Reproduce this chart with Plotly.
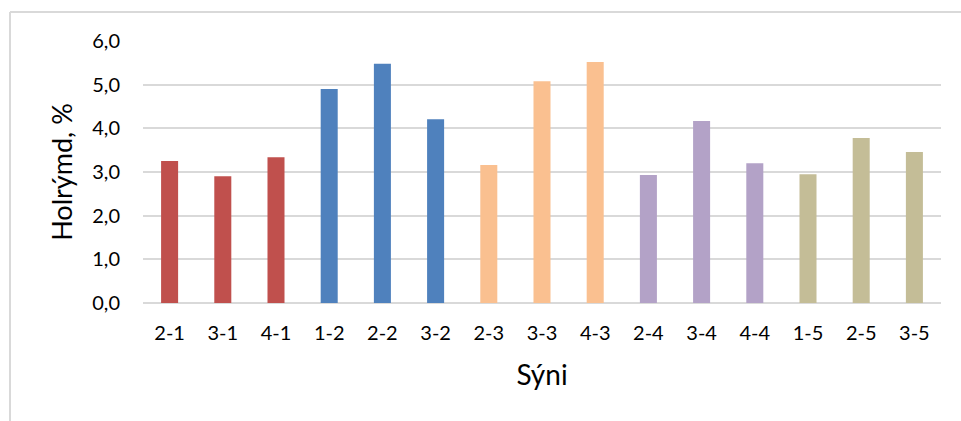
import plotly.graph_objects as go

# Sample labels and measured void content (%)
samples = ["2-1", "3-1", "4-1", "1-2", "2-2", "3-2", "2-3", "3-3",
           "4-3", "2-4", "3-4", "4-4", "1-5", "2-5", "3-5"]
void_pct = [3.25, 2.90, 3.34, 4.90, 5.48, 4.21, 3.16, 5.08,
            5.52, 2.93, 4.17, 3.20, 2.95, 3.78, 3.46]
group_colors = ["#C0504D"] * 3 + ["#4F81BD"] * 3 + ["#FAC090"] * 3 + \
               ["#B3A2C7"] * 3 + ["#C4BD97"] * 3

y_ticks = [0, 1, 2, 3, 4, 5, 6]

W, H = 961, 421
L, R, T, B = 143, 20, 41, 118
pw, ph = W - L - R, H - T - B

fig = go.Figure(go.Bar(
    x=samples, y=void_pct,
    marker=dict(color=group_colors, line=dict(width=0)),
))

font = "Lato, 'Open Sans', sans-serif"
grid = "#D9D9D9"

fig.update_layout(
    width=W, height=H,
    margin=dict(l=L, r=R, t=T, b=B, pad=0),
    paper_bgcolor="white", plot_bgcolor="white",
    bargap=0.68,
    separators=", ",
    showlegend=False,
    font=dict(family=font, color="#000000"),
    xaxis=dict(
        showgrid=False, zeroline=False,
        showline=False,
        ticks="", ticklabelstandoff=16,
        tickfont=dict(size=20, family=font, color="#000"),
        title=dict(text="Sýni", font=dict(size=28, family=font, color="#000"),
                   standoff=22),
    ),
    yaxis=dict(
        range=[0, 6], tickvals=y_ticks, tickformat=".1f",
        showgrid=True, gridcolor=grid, gridwidth=2,
        zeroline=True, zerolinecolor=grid, zerolinewidth=2,
        showline=False, ticks="", ticklabelstandoff=22,
        tickfont=dict(size=20, family=font, color="#000"),
        title=dict(text="Holrýmd, %", font=dict(size=27, family=font, color="#000"),
                   standoff=11),
    ),
)

# Light chart-area frame (top and left edges)
fx = (10 - L) / pw
fy = (H - B - 12) / ph
fig.add_shape(type="line", xref="paper", yref="paper",
              x0=fx, x1=fx, y0=-1, y1=fy, line=dict(color=grid, width=2))
fig.add_shape(type="line", xref="paper", yref="paper",
              x0=fx, x1=1.2, y0=fy, y1=fy, line=dict(color=grid, width=2))

fig.write_html("out.html")
